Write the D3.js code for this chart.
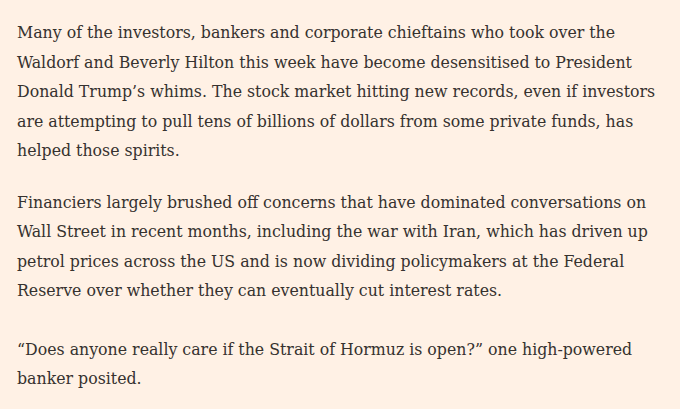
<!DOCTYPE html>
<html>
<head>
<meta charset="utf-8">
<script src="https://cdn.jsdelivr.net/npm/d3@7"></script>
<style>
  html, body { margin: 0; padding: 0; background: #fff1e5; }
  svg { display: block; }
</style>
</head>
<body>
<svg id="page"></svg>
<script>
// Text lines, one array per paragraph (line breaks as in the picture)
const paragraph1 = [
    "Many of the investors, bankers and corporate chieftains who took over the",
    "Waldorf and Beverly Hilton this week have become desensitised to President",
    "Donald Trump\u2019s whims. The stock market hitting new records, even if investors",
    "are attempting to pull tens of billions of dollars from some private funds, has",
    "helped those spirits."
];
const paragraph2 = [
    "Financiers largely brushed off concerns that have dominated conversations on",
    "Wall Street in recent months, including the war with Iran, which has driven up",
    "petrol prices across the US and is now dividing policymakers at the Federal",
    "Reserve over whether they can eventually cut interest rates."
];
const paragraph3 = [
    "\u201cDoes anyone really care if the Strait of Hormuz is open?\u201d one high-powered",
    "banker posited."
];

const width = 680, height = 409;
const left = 17, firstBaseline = 38;
const lineHeight = 29.5;
const gapBefore = [0, 22.2, 29.1]; // extra space above each paragraph

let svg = d3.select("#page")
    .attr("width", width)
    .attr("height", height);

svg.append("rect")
    .attr("width", width)
    .attr("height", height)
    .attr("fill", "#fff1e5");

// Flatten into lines, keeping track of the running y
let lines = [];
let y = firstBaseline;
[paragraph1, paragraph2, paragraph3].forEach(function(p, pi) {
    if (pi > 0) y += lineHeight + gapBefore[pi];
    p.forEach(function(t, li) {
        if (li > 0) y += lineHeight;
        lines.push({ text: t, y: y });
    });
});

svg.append("g")
    .selectAll("text")
    .data(lines)
    .join("text")
    .attr("x", left)
    .attr("y", d => d.y)
    .style("font-family", "'DejaVu Serif Condensed', 'DejaVu Serif', serif")
    .style("font-stretch", "condensed")
    .style("font-size", "17.55px")
    .style("fill", "#36322f")
    .text(d => d.text);
</script>
</body>
</html>
